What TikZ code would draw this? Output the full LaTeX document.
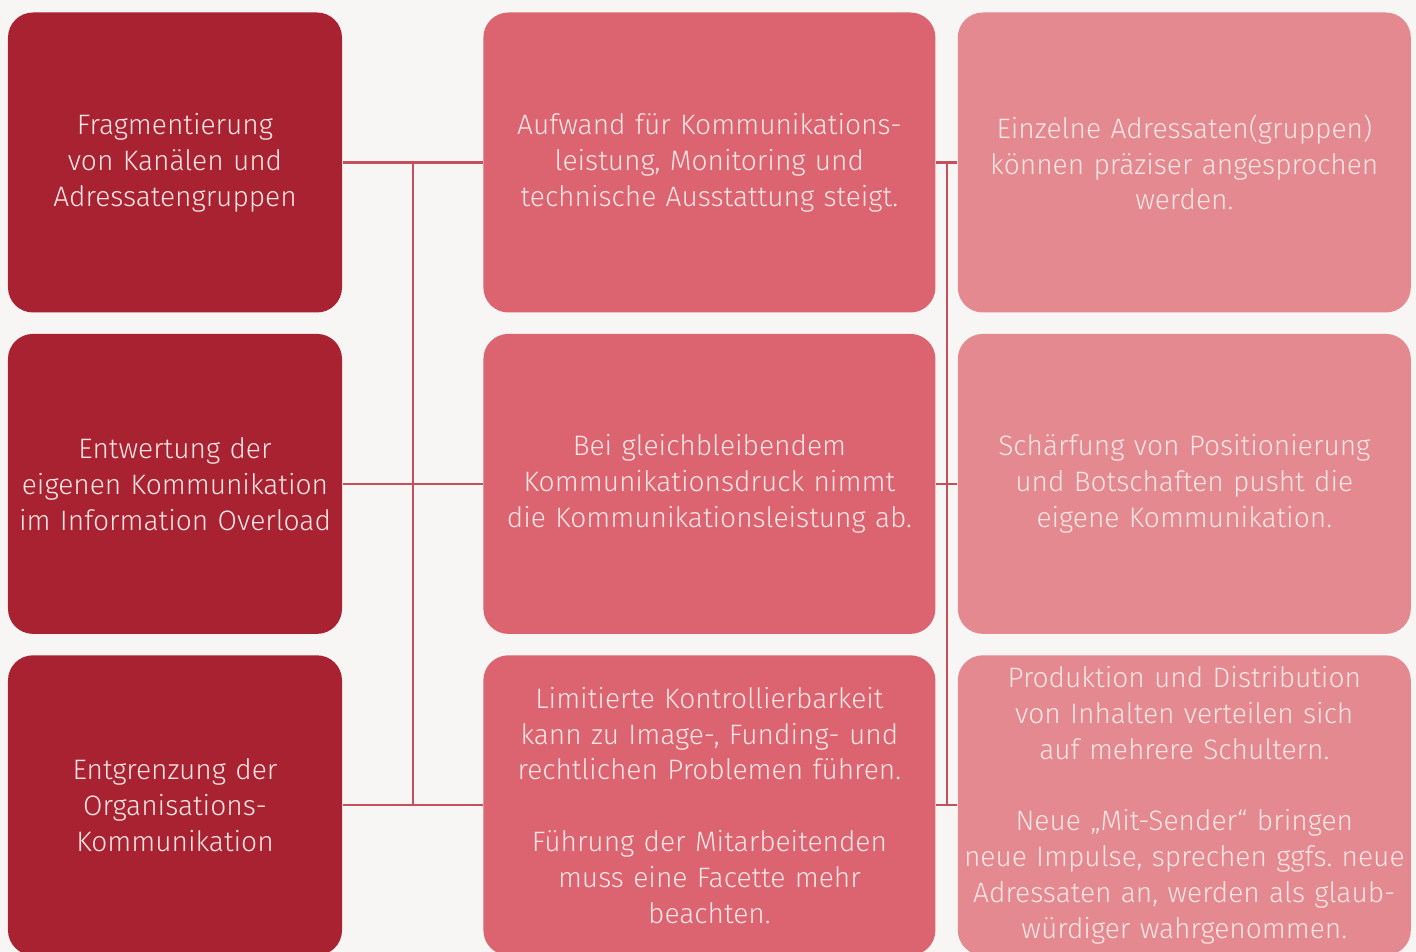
\documentclass[tikz,border=0pt]{standalone}
\usepackage{fontspec}
\setmainfont{Fira Sans}[UprightFont={* Light}]
\usetikzlibrary{positioning, calc}

\definecolor{dunkelrot}{HTML}{A92231}
\definecolor{mittelrot}{HTML}{DC6370}
\definecolor{hellrot}{HTML}{E4898F}
\definecolor{linie}{HTML}{C4505B}
\definecolor{papier}{HTML}{F7F6F4}
\definecolor{schrift}{HTML}{F8E6E6}

\tikzset{
  feld/.style={rectangle, rounded corners=0.25cm, text width=3.2cm,
    inner xsep=0.07cm, inner ysep=0pt, minimum height=3.0cm, align=center,
    text=schrift, font=\fontsize{8}{10.2}\selectfont},
  ursache/.style={feld, fill=dunkelrot},
  folge/.style={feld, fill=mittelrot, text width=4.38cm},
  chance/.style={feld, fill=hellrot, text width=4.39cm},
  verbindung/.style={draw=linie, line width=0.6pt}
}

\begin{document}
\begin{tikzpicture}
    \fill[papier] (0,0) rectangle (14.16,9.52);
    \clip (0,0) rectangle (14.16,9.52);

    % Ursachen
    \node[ursache] (u1) at (1.75,7.895) {Fragmentierung\\von Kanälen und\\Adressatengruppen};
    \node[ursache] (u2) [below=0.2cm of u1] {Entwertung der\\eigenen Kommunikation\\im Information Overload};
    \node[ursache] (u3) [below=0.2cm of u2] {Entgrenzung der\\Organisations-\\Kommunikation};

    % Folgen
    \node[folge] (f1) [right=1.4cm of u1] {Aufwand für Kommunikations-\\leistung, Monitoring und\\technische Ausstattung steigt.};
    \node[folge] (f2) [right=1.4cm of u2] {Bei gleichbleibendem\\Kommunikationsdruck nimmt\\die Kommunikationsleistung ab.};
    \node[folge] (f3) [right=1.4cm of u3] {Limitierte Kontrollierbarkeit\\kann zu Image-, Funding- und\\rechtlichen Problemen führen.\\[10.2pt]Führung der Mitarbeitenden\\muss eine Facette mehr\\beachten.};

    % Chancen
    \node[chance] (c1) [right=0.21cm of f1] {Einzelne Adressaten(gruppen)\\können präziser angesprochen\\werden.};
    \node[chance] (c2) [right=0.21cm of f2] {Schärfung von Positionierung\\und Botschaften pusht die\\eigene Kommunikation.};
    \node[chance] (c3) [right=0.21cm of f3] {Produktion und Distribution\\von Inhalten verteilen sich\\auf mehrere Schultern.\\[10.2pt]Neue „Mit-Sender“ bringen\\\makebox[\linewidth][c]{neue Impulse, sprechen ggfs.\ neue}\\Adressaten an, werden als glaub-\\würdiger wahrgenommen.};

    % Verbindungslinien
    \coordinate (lo) at ($(u1.east)!0.5!(f1.west)$);
    \coordinate (lu) at ($(u3.east)!0.5!(f3.west)$);
    \coordinate (ro) at ($(f1.east)!0.5!(c1.west)$);
    \coordinate (ru) at ($(f3.east)!0.5!(c3.west)$);
    \draw[verbindung] (u1.east) -- (f1.west)
        (u2.east) -- (f2.west)
        (u3.east) -- (f3.west)
        (lo) -- (lu);
    \draw[verbindung] (f1.east) -- (c1.west)
        (f2.east) -- (c2.west)
        (f3.east) -- (c3.west)
        (ro) -- (ru);
\end{tikzpicture}
\end{document}
